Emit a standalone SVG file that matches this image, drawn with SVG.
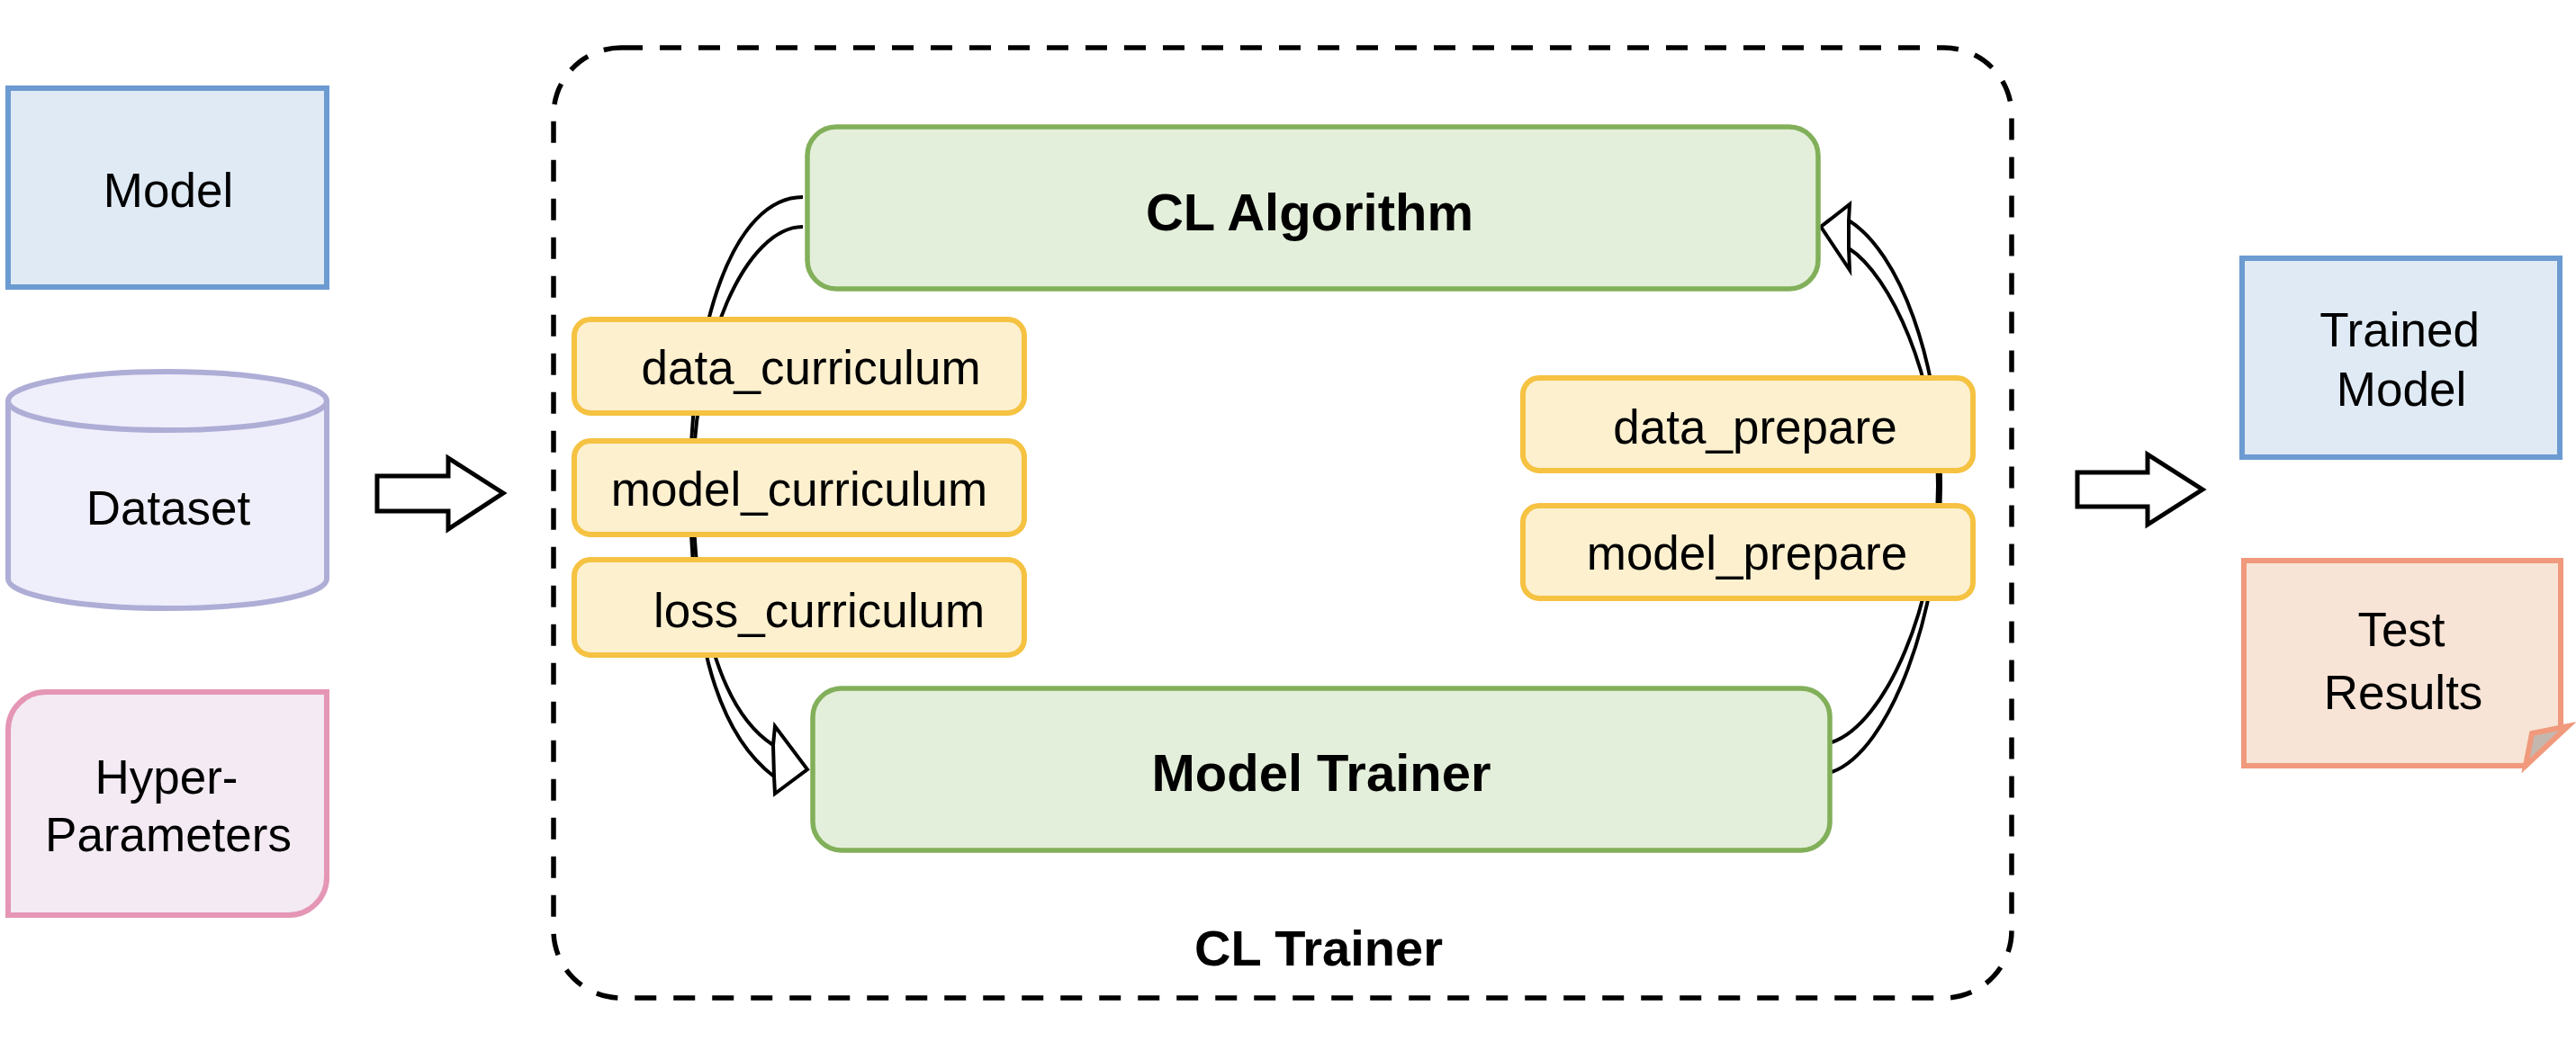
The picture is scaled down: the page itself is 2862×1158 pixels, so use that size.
<svg xmlns="http://www.w3.org/2000/svg" width="2862" height="1158" viewBox="0 0 2862 1158">
<style>
.t{font-family:"Liberation Sans",Arial,sans-serif;font-size:53px;fill:#000;text-anchor:middle}
.b{font-family:"Liberation Sans",Arial,sans-serif;font-size:58px;font-weight:bold;fill:#000;text-anchor:middle}
.blue{fill:#DFEAF5;stroke:#6C9BD2;stroke-width:6}
.green{fill:#E3EFDA;stroke:#82B05A;stroke-width:5.5}
.yellow{fill:#FCF0CF;stroke:#F5C242;stroke-width:6}
.ln{fill:none;stroke:#000;stroke-width:4}
.head{fill:#fff;stroke:#000;stroke-width:4;stroke-linejoin:miter}
.big{fill:#fff;stroke:#000;stroke-width:5;stroke-linejoin:miter}
</style>
<rect width="2862" height="1158" fill="#fff"/>

<g id="cl-trainer">
<rect x="615" y="53" width="1620" height="1056" rx="75" ry="75" fill="none" stroke="#000" stroke-width="5.5" stroke-dasharray="24 19"/>
<text class="b" x="1465" y="1073" style="font-size:56px">CL Trainer</text>
</g>

<g id="connectors">
<path class="ln" d="M892 219 C815 219 767 360 767 540 C767 690 790 810 860 863"/>
<path class="ln" d="M892 252 C830 252 770 380 770 540 C770 680 800 790 859 828"/>
<polygon class="head" points="859,828 861,807 897,855 861,882 860,863"/>
<path class="ln" d="M2054 245 C2110 280 2156 400 2156 540 C2156 680 2100 835 2035 858"/>
<path class="ln" d="M2054 276 C2100 305 2153 420 2153 540 C2153 670 2095 805 2035 825"/>
<polygon class="head" points="2054,245 2055,227 2023,252 2055,300 2054,276"/>
<polygon class="big" points="419,529 498,529 498,509 559,548 498,588 498,568 419,568"/>
<polygon class="big" points="2308,525 2386,525 2386,505 2447,544 2386,583 2386,563 2308,563"/>
</g>

<g id="model">
<rect class="blue" x="9" y="98" width="354" height="221"/>
<text class="t" x="187" y="230">Model</text>
</g>

<g id="dataset">
<path d="M9 445.5 A177 32.5 0 0 1 363 445.5 V643.5 A177 32.5 0 0 1 9 643.5 Z" fill="#EFEEFB" stroke="#ADADD6" stroke-width="6"/>
<path d="M9 445.5 A177 32.5 0 0 0 363 445.5" fill="none" stroke="#ADADD6" stroke-width="6"/>
<text class="t" x="187" y="583">Dataset</text>
</g>

<g id="hyper-parameters">
<path d="M51 769 H363 V975 A42 42 0 0 1 321 1017 H9 V811 A42 42 0 0 1 51 769 Z" fill="#F3EAF3" stroke="#E596B4" stroke-width="6"/>
<text class="t" x="185" y="882">Hyper-</text>
<text class="t" x="187" y="946">Parameters</text>
</g>

<g id="cl-algorithm">
<rect class="green" x="897" y="141" width="1123" height="180" rx="32" ry="32"/>
<text class="b" x="1455" y="256">CL Algorithm</text>
</g>

<g id="model-trainer">
<rect class="green" x="903" y="765" width="1130" height="180" rx="32" ry="32"/>
<text class="b" x="1468" y="879">Model Trainer</text>
</g>

<g id="data-curriculum">
<rect class="yellow" x="638" y="355" width="500" height="104" rx="18" ry="18"/>
<text class="t" x="901" y="427">data_curriculum</text>
</g>
<g id="model-curriculum">
<rect class="yellow" x="638" y="490" width="500" height="104" rx="18" ry="18"/>
<text class="t" x="888" y="562">model_curriculum</text>
</g>
<g id="loss-curriculum">
<rect class="yellow" x="638" y="622" width="500" height="106" rx="18" ry="18"/>
<text class="t" x="910" y="697">loss_curriculum</text>
</g>

<g id="data-prepare">
<rect class="yellow" x="1692" y="420" width="500" height="103" rx="18" ry="18"/>
<text class="t" x="1950" y="493">data_prepare</text>
</g>
<g id="model-prepare">
<rect class="yellow" x="1692" y="562" width="500" height="103" rx="18" ry="18"/>
<text class="t" x="1941" y="633">model_prepare</text>
</g>

<g id="trained-model">
<rect class="blue" x="2491" y="287" width="353" height="221"/>
<text class="t" x="2666" y="385">Trained</text>
<text class="t" x="2668" y="451">Model</text>
</g>

<g id="test-results">
<path d="M2493 623 H2845 V809 L2806 851 H2493 Z" fill="#F7E4D6" stroke="#F0997D" stroke-width="6"/>
<path d="M2853 807 L2813 815 L2806 851 Z" fill="#C4B8AE" stroke="#F0997D" stroke-width="6" stroke-linejoin="miter"/>
<text class="t" x="2668" y="718">Test</text>
<text class="t" x="2670" y="788">Results</text>
</g>
</svg>
